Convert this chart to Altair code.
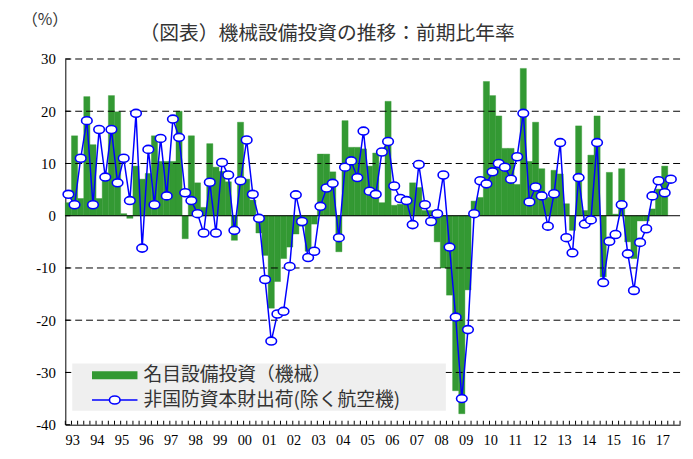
import altair as alt
import pandas as pd

# ---------------- data ----------------
year_labels = ["93", "94", "95", "96", "97", "98", "99", "00", "01", "02", "03", "04",
               "05", "06", "07", "08", "09", "10", "11", "12", "13", "14", "15", "16", "17"]

# 名目設備投資（機械） quarterly, 1993Q1 ..
bar_values = [2.5, 15.3, 3.3, 22.8, 13.6, 3.3, 7.0, 23.0, 19.9, 0.4, -0.5, 9.5,
              7.0, 8.1, 15.3, 10.4, 10.4, 10.4, 20.0, -4.4, 15.3, 6.3, 1.6, 13.8,
              9.3, 8.5, 6.5, -4.7, 17.9, 7.0, 3.0, -3.3, -7.6, -17.7, -12.6, -8.2,
              -6.0, -3.5, -2.0, -6.8, -1.6, 11.8, 11.8, 8.4, -6.9, 18.2, 13.1, 13.1,
              12.8, 9.5, 12.0, 2.5, 21.9, 2.0, 2.2, 2.2, 6.3, 5.4, 1.0, 1.0,
              -5.0, -10.0, -15.2, -33.5, -37.9, -14.2, 2.8, 3.5, 25.7, 23.0, 19.1, 12.9,
              12.9, 6.0, 28.2, 10.4, 17.9, 9.0, 3.5, 8.7, 8.0, 2.3, -2.8, 17.2,
              1.0, 11.6, 19.1, -11.7, 8.3, 0.3, 9.0, -5.0, -8.2, -1.0, -1.0, 1.3,
              5.1, 9.5]

# 非国防資本財出荷(除く航空機) quarterly, 1993Q1 ..
line_values = [4.1, 2.1, 11.0, 18.2, 2.1, 16.5, 7.4, 16.5, 6.3, 11.0, 2.9, 19.6,
               -6.2, 12.7, 2.1, 14.8, 3.8, 18.5, 15.0, 4.4, 2.9, 0.4, -3.3, 6.4,
               -3.3, 10.2, 7.8, -2.8, 6.7, 14.5, 4.1, -0.5, -12.2, -24.0, -18.8, -18.3,
               -9.7, 4.0, -1.1, -8.0, -6.8, 1.8, 5.3, 6.2, -4.2, 9.3, 10.5, 7.3,
               16.2, 4.7, 4.1, 12.2, 14.2, 5.7, 3.3, 2.9, -1.7, 9.8, 2.1, -1.1,
               0.4, 7.8, -6.0, -19.4, -35.0, -21.8, 0.4, 6.7, 6.1, 8.4, 10.0, 9.3,
               7.0, 11.3, 19.6, 2.65, 5.5, 3.8, -2.0, 4.2, 14.0, -4.2, -7.1, 7.3,
               -1.6, -0.8, 14.0, -12.8, -4.9, -3.6, 2.1, -7.3, -14.3, -5.1, -2.5, 3.8,
               6.7, 4.4, 7.0]

grid_values = [30, 20, 10, -10, -20, -30]
y_tick_values = [30, 20, 10, 0, -10, -20, -30, -40]
legend_labels = ["名目設備投資（機械）", "非国防資本財出荷(除く航空機)"]
title_text = "（図表）機械設備投資の推移：前期比年率"
y_unit = "（%）"

# ---------------- tables ----------------
n_slots = 4 * len(year_labels)
bars = pd.DataFrame({"q": list(range(len(bar_values))), "v": bar_values})
bars["q2"] = bars["q"] + 1
line = pd.DataFrame({"q": [i + 0.5 for i in range(len(line_values))], "v": line_values})
years = pd.DataFrame({"q": [4 * i + 1.2 for i in range(len(year_labels))],
                      "label": year_labels})
one = pd.DataFrame({"a": [0]})

W, H = 622, 370
GREEN = "#339933"
BLUE = "#0000ff"
NUM_FONT = "Liberation Serif"
JP_FONT = "Noto Sans CJK JP"
ELLIPSE = ("M -1 0 C -1 -0.414 -0.552 -0.75 0 -0.75 C 0.552 -0.75 1 -0.414 1 0 "
           "C 1 0.414 0.552 0.75 0 0.75 C -0.552 0.75 -1 0.414 -1 0 Z")

xs = alt.Scale(domain=[0, n_slots], nice=False, zero=False)
ys = alt.Scale(domain=[-40, 30], nice=False, zero=False)

x_axis = alt.Axis(
    labels=False, ticks=False, grid=False, domain=True,
    domainColor="black", domainWidth=1, title=None,
)
y_axis = alt.Axis(
    values=y_tick_values,
    labelExpr="datum.value < 0 ? '-' + abs(datum.value) : '' + datum.value",
    labelOverlap=False,
    ticks=False, grid=False, domain=True, domainColor="black", domainWidth=1,
    labelFont=NUM_FONT, labelFontSize=15, labelColor="black", labelPadding=10,
    title=y_unit, titleAngle=0, titleX=-21, titleY=-40, titleAlign="center",
    titleBaseline="middle", titleFont=JP_FONT, titleFontSize=16,
    titleFontWeight="normal", titleColor="#333333",
)

bar_layer = alt.Chart(bars).mark_rect(color=GREEN, stroke=GREEN, strokeWidth=0.4).encode(
    x=alt.X("q:Q", scale=xs, axis=x_axis),
    x2="q2:Q",
    y=alt.Y("v:Q", scale=ys, axis=y_axis),
    y2=alt.datum(0),
)

grid_layer = alt.Chart(pd.DataFrame({"v": grid_values})).mark_rule(
    color="black", strokeWidth=1, strokeDash=[7, 4]
).encode(y=alt.Y("v:Q", scale=ys))

zero_layer = alt.Chart(pd.DataFrame({"v": [0]})).mark_rule(
    color="black", strokeWidth=1
).encode(y=alt.Y("v:Q", scale=ys))

x_ticks = alt.Chart(pd.DataFrame({"q": list(range(n_slots + 1))})).mark_rule(
    color="black", strokeWidth=1
).encode(x=alt.X("q:Q", scale=xs), y=alt.value(H), y2=alt.value(H - 4))

y_ticks = alt.Chart(pd.DataFrame({"v": y_tick_values})).mark_rule(
    color="black", strokeWidth=1
).encode(y=alt.Y("v:Q", scale=ys), x=alt.value(0), x2=alt.value(5))

year_text = alt.Chart(years).mark_text(
    font=NUM_FONT, fontSize=14.5, color="black", align="center", baseline="middle"
).encode(x=alt.X("q:Q", scale=xs), y=alt.value(H + 17), text="label:N")

line_layer = alt.Chart(line).mark_line(color=BLUE, strokeWidth=1.5).encode(
    x=alt.X("q:Q", scale=xs), y=alt.Y("v:Q", scale=ys)
)
point_layer = alt.Chart(line).mark_point(
    shape=ELLIPSE, size=115, filled=True, fill="white", stroke=BLUE,
    strokeWidth=1.6, opacity=1
).encode(x=alt.X("q:Q", scale=xs), y=alt.Y("v:Q", scale=ys))

# legend (manual, drawn over plot)
leg_bg = alt.Chart(one).mark_rect(fill="#efefef").encode(
    x=alt.value(7), x2=alt.value(385), y=alt.value(308), y2=alt.value(356))
leg_bar = alt.Chart(one).mark_rule(color=GREEN, strokeWidth=8).encode(
    x=alt.value(27), x2=alt.value(73), y=alt.value(320))
leg_line = alt.Chart(one).mark_rule(color=BLUE, strokeWidth=1.5).encode(
    x=alt.value(27), x2=alt.value(73), y=alt.value(345))
leg_pt = alt.Chart(one).mark_point(
    shape=ELLIPSE, size=115, filled=True, fill="white", stroke=BLUE,
    strokeWidth=1.6, opacity=1).encode(x=alt.value(50), y=alt.value(345))
leg_t1 = alt.Chart(one).mark_text(
    text=legend_labels[0], font=JP_FONT, fontSize=19, color="#333333",
    align="left", baseline="middle").encode(x=alt.value(79), y=alt.value(320))
leg_t2 = alt.Chart(one).mark_text(
    text=legend_labels[1], font=JP_FONT, fontSize=19, color="#333333",
    align="left", baseline="middle").encode(x=alt.value(79), y=alt.value(345))

title_layer = alt.Chart(one).mark_text(
    text=title_text, font=JP_FONT, fontSize=20, color="#333333",
    align="center", baseline="middle").encode(x=alt.value(265), y=alt.value(-25))

chart = alt.layer(
    bar_layer, grid_layer, zero_layer, x_ticks, y_ticks, year_text,
    line_layer, point_layer,
    leg_bg, leg_bar, leg_line, leg_pt, leg_t1, leg_t2, title_layer,
).properties(
    width=W, height=H,
    autosize=alt.AutoSizeParams(type="none"),
    padding={"left": 58, "top": 49, "right": 5, "bottom": 24},
    background="white",
).configure_view(stroke=None)

chart.save("out.html", embed_options={"renderer": "svg", "actions": False})
